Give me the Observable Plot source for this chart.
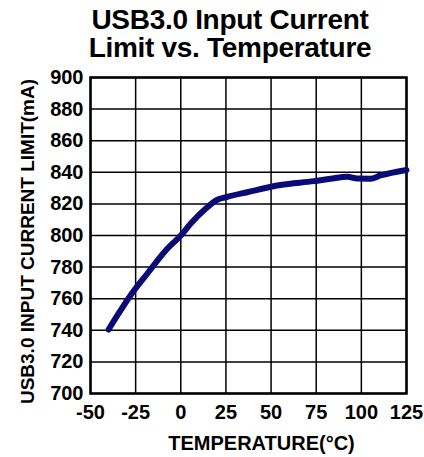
<!DOCTYPE html>
<html>
<head>
<meta charset="utf-8">
<script src="https://cdn.jsdelivr.net/npm/d3@7"></script>
<script src="https://cdn.jsdelivr.net/npm/@observablehq/plot@0.6"></script>
<style>
  body { margin: 0; background: #fff; }
  #title { font-family: "Liberation Sans", Arial, sans-serif; font-weight: bold; font-size: 28px; line-height: 28px; height: 58px; box-sizing: border-box; padding-top: 6px; text-align: center; width: 424px; padding-left: 36px; letter-spacing: -0.3px; position: relative; z-index: 1; }
  #chart { margin-top: 0; }
</style>
</head>
<body>
<div id="title"></div>
<div id="chart"></div>
<script>
const titleLines = ["USB3.0 Input Current", "Limit vs. Temperature"];
const xLabel = "TEMPERATURE(°C)";
const yLabel = "USB3.0 INPUT CURRENT LIMIT(mA)";
const xTicks = [-50, -25, 0, 25, 50, 75, 100, 125];
const yTicks = [700, 720, 740, 760, 780, 800, 820, 840, 860, 880, 900];
const temperature = [-40, -26, -18.6, -7.5, 0, 5.4, 13.7, 20.2, 25, 36.8, 55.2, 73.7, 82.9, 92.2, 97.7, 105, 110.6, 125];
const currentLimit = [740.5, 765, 775.8, 791.6, 800, 807.4, 816.9, 822.6, 824.2, 827.4, 832, 834.4, 835.9, 837.2, 836, 835.9, 838, 841.5];

const titleEl = document.getElementById("title");
titleLines.forEach((s, i) => { if (i) titleEl.appendChild(document.createElement("br")); titleEl.appendChild(document.createTextNode(s)); });

const data = temperature.map((t, i) => ({t, c: currentLimit[i]}));
const font = "'Liberation Sans', Arial, sans-serif";

const chart = Plot.plot({
  width: 424,
  height: 399,
  marginTop: 19,
  marginLeft: 90,
  marginRight: 18,
  marginBottom: 64,
  style: {fontFamily: font, fontWeight: "bold", fontSize: "20px", color: "#000", background: "transparent"},
  x: {domain: [-50, 125], ticks: xTicks, label: null},
  y: {domain: [700, 900], ticks: yTicks, label: null},
  marks: [
    Plot.gridX(xTicks, {stroke: "#000", strokeOpacity: 1, strokeWidth: 1.5}),
    Plot.gridY(yTicks, {stroke: "#000", strokeOpacity: 1, strokeWidth: 1.5}),
    Plot.frame({stroke: "#000", strokeWidth: 2.5}),
    Plot.axisX(xTicks, {tickSize: 0, tickPadding: 11, fontSize: 20, fontWeight: "bold", label: null, tickFormat: d => String(d)}),
    Plot.axisY(yTicks, {tickSize: 0, tickPadding: 7, fontSize: 20, fontWeight: "bold", label: null, tickFormat: d => String(d)}),
    Plot.line(data, {x: "t", y: "c", stroke: "#0b0b78", strokeWidth: 6, curve: "monotone-x"}),
    Plot.text([xLabel], {frameAnchor: "bottom", dx: 13, dy: 56, fontSize: 20, fontWeight: "bold", fill: "#000"}),
    Plot.text([yLabel], {frameAnchor: "left", textAnchor: "middle", dx: -63, dy: 6, rotate: -90, fontSize: 19, fontWeight: "bold", fill: "#000"})
  ]
});
document.getElementById("chart").appendChild(chart);
</script>
</body>
</html>
